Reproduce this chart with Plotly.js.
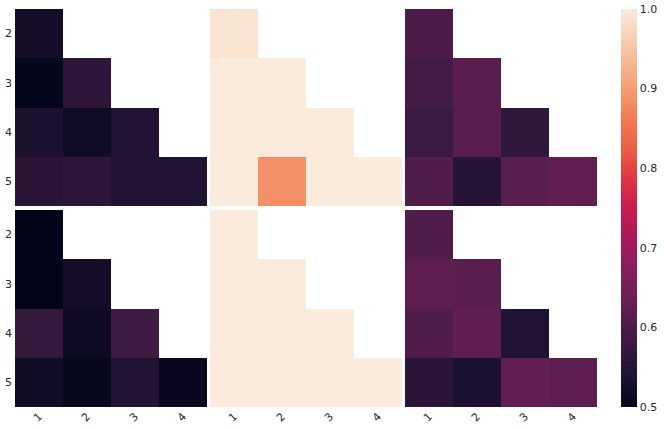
<!DOCTYPE html>
<html>
<head>
<meta charset="utf-8">
<script src="https://cdn.plot.ly/plotly-3.0.1.min.js"></script>
<style>
  body { margin: 0; background: #fff; }
  #grafico { width: 664px; height: 429px; }
</style>
</head>
<body>
<div id="grafico"></div>
<script>
// categorías de los ejes
const xCats = [1, 2, 3, 4];
const yCats = [2, 3, 4, 5];

// valores de cada panel (triángulo inferior, null = vacío)
const arribaIzq = [
  [0.525, null, null, null],
  [0.502, 0.56, null, null],
  [0.535, 0.52, 0.54, null],
  [0.555, 0.56, 0.54, 0.54]
];
const arribaCentro = [
  [0.99, null, null, null],
  [1.0, 1.0, null, null],
  [1.0, 1.0, 1.0, null],
  [1.0, 0.885, 1.0, 1.0]
];
const arribaDer = [
  [0.60, null, null, null],
  [0.59, 0.615, null, null],
  [0.578, 0.613, 0.565, null],
  [0.605, 0.55, 0.615, 0.625]
];
const abajoIzq = [
  [0.50, null, null, null],
  [0.50, 0.525, null, null],
  [0.572, 0.515, 0.58, null],
  [0.52, 0.505, 0.54, 0.51]
];
const abajoCentro = [
  [1.0, null, null, null],
  [1.0, 1.0, null, null],
  [1.0, 1.0, 1.0, null],
  [1.0, 1.0, 1.0, 1.0]
];
const abajoDer = [
  [0.605, null, null, null],
  [0.62, 0.615, null, null],
  [0.605, 0.623, 0.54, null],
  [0.555, 0.535, 0.625, 0.62]
];

const colorbarTicks = [0.5, 0.6, 0.7, 0.8, 0.9, 1.0];

// paleta tipo "rocket"
const rocket = [
  [0.0, '#03051a'], [0.071, '#1c1130'], [0.143, '#35193e'], [0.214, '#521c4b'],
  [0.286, '#701f57'], [0.357, '#8e1d5b'], [0.429, '#ad1759'], [0.5, '#cb1b4f'],
  [0.571, '#e13342'], [0.643, '#ed5a44'], [0.714, '#f37651'], [0.786, '#f5966c'],
  [0.857, '#f6b48f'], [0.929, '#f8d0b4'], [1.0, '#faebdd']
];

const paneles = [arribaIzq, arribaCentro, arribaDer, abajoIzq, abajoCentro, abajoDer];
const colDom = [[15 / 664, 207 / 664], [210 / 664, 402 / 664], [405 / 664, 597 / 664]];
const rowDom = [[1 - 206 / 429, 1 - 9 / 429], [1 - 407 / 429, 1 - 210 / 429]];

const fuente = { family: 'DejaVu Sans', size: 11, color: '#262626' };

let datos = [];
let layout = {
  width: 664, height: 429,
  margin: { l: 0, r: 0, t: 0, b: 0 },
  paper_bgcolor: '#fff', plot_bgcolor: '#fff',
  font: fuente,
  showlegend: false
};

paneles.forEach((z, i) => {
  let fila = Math.floor(i / 3);
  let col = i % 3;
  let n = i + 1;
  let xa = n === 1 ? 'x' : 'x' + n;
  let ya = n === 1 ? 'y' : 'y' + n;
  datos.push({
    type: 'heatmap',
    x: xCats, y: yCats, z: z,
    xaxis: xa, yaxis: ya,
    colorscale: rocket, zmin: 0.5, zmax: 1.0,
    showscale: i === 0,
    colorbar: {
      x: 621 / 664, xanchor: 'left', thickness: 16,
      y: 1 - 407 / 429, yanchor: 'bottom', len: 398 / 429, lenmode: 'fraction',
      outlinewidth: 0, tickvals: colorbarTicks, tickformat: '.1f',
      ticks: '', tickfont: fuente, ypad: 0, xpad: 0
    },
    hoverongaps: false
  });
  layout['xaxis' + (n === 1 ? '' : n)] = {
    domain: colDom[col], anchor: ya, range: [0.5, 4.5],
    showgrid: false, zeroline: false, showline: false,
    tickvals: xCats, showticklabels: fila === 1, tickangle: -45,
    ticks: '', tickfont: fuente
  };
  layout['yaxis' + (n === 1 ? '' : n)] = {
    domain: rowDom[fila], anchor: xa, range: [5.5, 1.5],
    showgrid: false, zeroline: false, showline: false,
    tickvals: yCats, showticklabels: col === 0,
    ticks: '', tickfont: fuente, ticklabelstandoff: 2
  };
});

Plotly.newPlot('grafico', datos, layout, { displayModeBar: false, staticPlot: true });
</script>
</body>
</html>
